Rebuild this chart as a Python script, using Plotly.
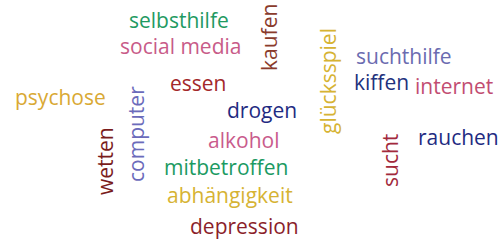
import plotly.graph_objects as go

words = ["selbsthilfe", "social media", "kaufen", "glücksspiel", "suchthilfe", "kiffen",
         "internet", "psychose", "essen", "computer", "drogen", "alkohol", "wetten",
         "mitbetroffen", "sucht", "rauchen", "abhängigkeit", "depression"]
word_x = [179, 180, 269, 328, 404, 381, 454, 60, 198, 136, 262, 243, 105, 226, 390, 458, 230, 244]
word_y = [20, 46, 38, 81, 56, 82, 86, 97, 83, 134, 110, 140, 161, 167, 161, 137, 195, 226]
vertical = [False, False, True, True, False, False, False, False, False, True, False, False, True,
            False, True, False, False, False]
colors = ["#1f9a62", "#c85b88", "#8a3b2c", "#d6b333", "#6b6bb0", "#22317d", "#c24d72", "#d9a934",
          "#a3282b", "#6b6bbb", "#1f2b82", "#c95b8c", "#7a1c1c", "#1b9a62", "#a2293c", "#1f2b82",
          "#d6b333", "#8b1f2b"]

fig = go.Figure()
fig.add_trace(go.Scatter(x=[0, 501], y=[0, 240], mode="markers", marker=dict(opacity=0),
                         hoverinfo="skip", showlegend=False))
for w, x, y, v, c in zip(words, word_x, word_y, vertical, colors):
    fig.add_annotation(x=x, y=y, xref="x", yref="y", text=w, showarrow=False,
                       textangle=-90 if v else 0,
                       font=dict(family="Open Sans, sans-serif", size=21, color=c))

fig.update_xaxes(range=[0, 501], visible=False)
fig.update_yaxes(range=[240, 0], visible=False)
fig.update_layout(width=501, height=240, margin=dict(l=0, r=0, t=0, b=0),
                  paper_bgcolor="white", plot_bgcolor="white", hovermode=False)
fig.write_html("out.html", config={"displayModeBar": False, "staticPlot": True},
               post_script="document.body.style.margin='0';document.body.style.overflow='hidden';")
